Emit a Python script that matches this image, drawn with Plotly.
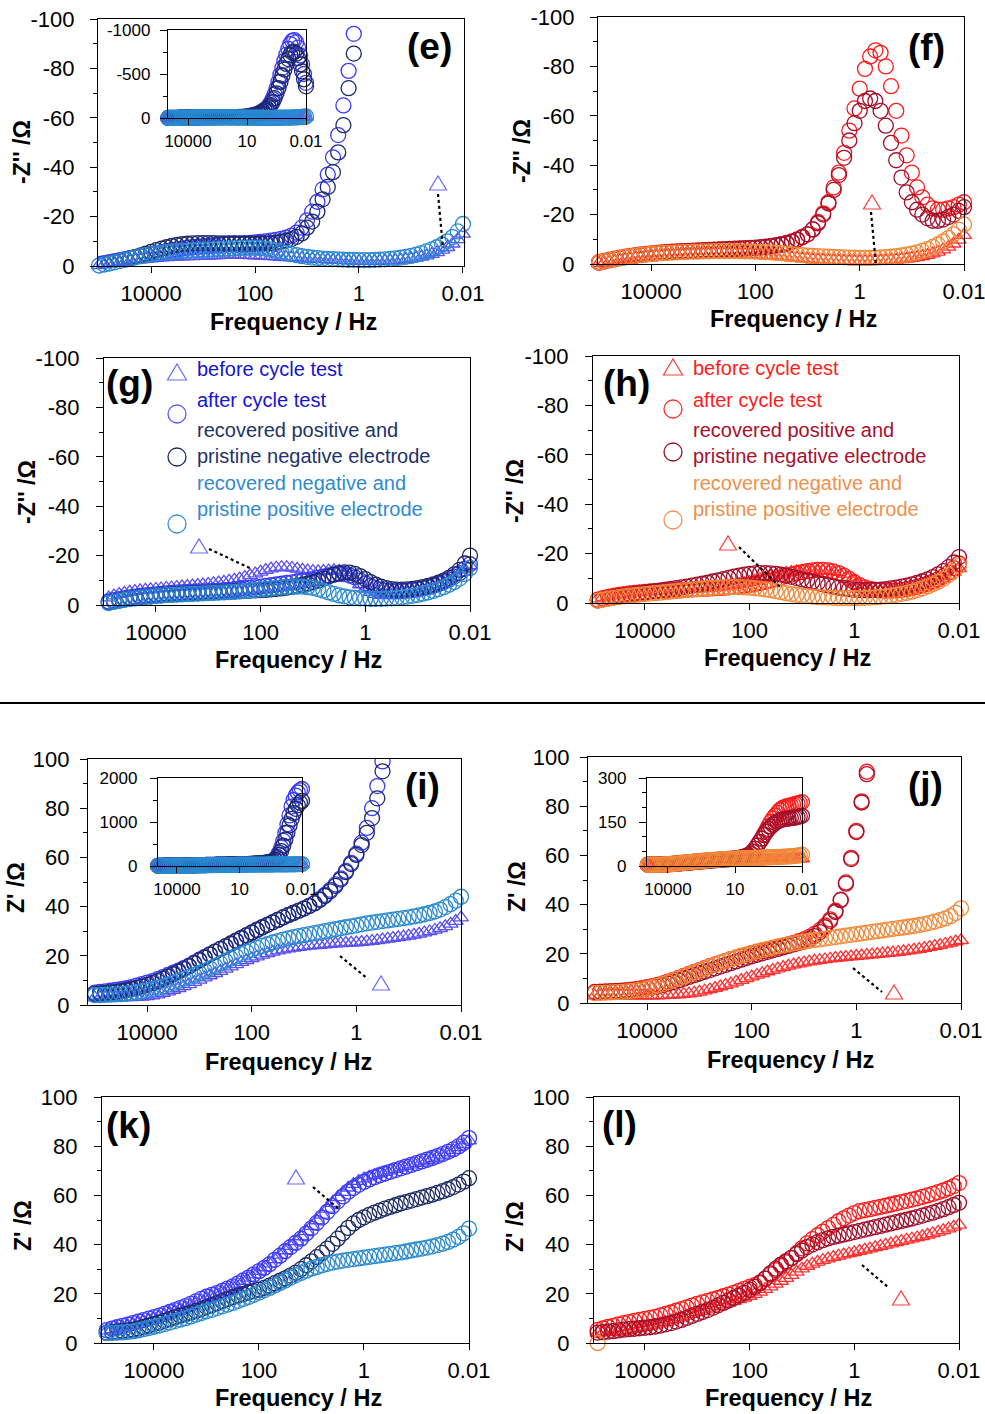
import plotly.graph_objects as go

# ---------------- data ----------------
FREQ_HZ = [100000, 79433, 63096, 50119, 39811, 31623, 25119, 19953, 15849, 12589,
           10000, 7943.3, 6309.6, 5011.9, 3981.1, 3162.3, 2511.9, 1995.3, 1584.9, 1258.9,
           1000, 794.33, 630.96, 501.19, 398.11, 316.23, 251.19, 199.53, 158.49, 125.89,
           100, 79.433, 63.096, 50.119, 39.811, 31.623, 25.119, 19.953, 15.849, 12.589,
           10, 7.9433, 6.3096, 5.0119, 3.9811, 3.1623, 2.5119, 1.9953, 1.5849, 1.2589,
           1, 0.79433, 0.63096, 0.50119, 0.39811, 0.31623, 0.25119, 0.19953, 0.15849, 0.12589,
           0.1, 0.079433, 0.063096, 0.050119, 0.039811, 0.031623, 0.025119, 0.019953, 0.015849, 0.012589,
           0.01]

X_TICKS_MAIN = [1e4, 1e2, 1, 1e-2]
X_TICKTEXT_MAIN = ["10000", "100", "1", "0.01"]
X_TICKS_INSET = [1e4, 10, 1e-2]
X_TICKTEXT_INSET = ["10000", "10", "0.01"]

IM_TICKS = [-100, -80, -60, -40, -20, 0]
IM_TICKTEXT = ["-100", "-80", "-60", "-40", "-20", "0"]
IM_MINOR = [-90, -70, -50, -30, -10]
RE_TICKS = [0, 20, 40, 60, 80, 100]
RE_TICKTEXT = ["0", "20", "40", "60", "80", "100"]
RE_MINOR = [10, 30, 50, 70, 90]

# (e) Z'' / ohm, blue set
E_BEFORE = [-0.3, -0.6, -0.9, -1.2, -1.5, -1.8, -2.1, -2.4, -2.6, -2.8,
            -3.0, -3.2, -3.4, -3.5, -3.6, -3.7, -3.8, -3.9, -3.9, -4.0,
            -4.0, -4.1, -4.2, -4.3, -4.4, -4.5, -4.5, -4.5, -4.4, -4.3,
            -4.2, -4.1, -4.0, -3.9, -3.8, -3.6, -3.5, -3.4, -3.3, -3.1,
            -3.0, -2.9, -2.8, -2.7, -2.6, -2.5, -2.4, -2.3, -2.2, -2.1,
            -2.0, -2.0, -2.0, -2.0, -2.0, -2.1, -2.2, -2.3, -2.5, -2.7,
            -3.0, -3.3, -3.7, -4.2, -4.8, -5.5, -6.5, -7.6, -9.0, -10.8,
            -13.0]
E_AFTER = [-0.8, -1.2, -1.6, -2.0, -2.4, -2.8, -3.2, -3.6, -4.0, -4.4,
           -4.8, -5.2, -5.6, -6.0, -6.4, -6.7, -7.0, -7.3, -7.6, -7.8,
           -8.0, -8.2, -8.4, -8.6, -8.8, -9.0, -9.1, -9.2, -9.3, -9.4,
           -9.6, -9.8, -10.0, -10.3, -10.6, -11.0, -11.5, -12.3, -13.5, -15.5,
           -18.5, -22.0, -26.0, -31.0, -37.0, -44.0, -53.0, -65.0, -79.0, -94.0,
           -110, -135, -170, -215, -270, -335, -410, -490, -570, -650,
           -720, -785, -840, -875, -885, -860, -800, -710, -610, -500,
           -400]
E_RECPOS = [-0.4, -0.7, -1.1, -1.5, -2.0, -2.5, -3.1, -3.7, -4.3, -5.0,
            -5.7, -6.4, -7.0, -7.6, -8.1, -8.5, -8.8, -9.0, -9.2, -9.3,
            -9.3, -9.3, -9.3, -9.2, -9.2, -9.1, -9.1, -9.0, -9.0, -9.0,
            -9.0, -9.1, -9.2, -9.3, -9.5, -9.9, -10.3, -10.9, -11.8, -13.2,
            -15.5, -18.0, -22.0, -27.0, -32.0, -38.0, -46.0, -57.0, -72.0, -86.0,
            -102, -120, -145, -180, -225, -280, -340, -410, -480, -550,
            -615, -670, -715, -745, -750, -730, -680, -610, -530, -440,
            -360]
E_RECNEG = [-0.2, -0.6, -1.0, -1.5, -2.0, -2.5, -3.0, -3.5, -4.0, -4.4,
            -4.8, -5.1, -5.4, -5.6, -5.8, -6.0, -6.1, -6.2, -6.3, -6.4,
            -6.5, -6.6, -6.7, -6.8, -6.9, -7.0, -7.1, -7.2, -7.3, -7.3,
            -7.3, -7.2, -7.0, -6.7, -6.3, -5.8, -5.3, -4.8, -4.4, -4.0,
            -3.7, -3.4, -3.2, -3.0, -2.9, -2.8, -2.7, -2.6, -2.5, -2.5,
            -2.4, -2.4, -2.4, -2.5, -2.6, -2.7, -2.9, -3.1, -3.4, -3.7,
            -4.1, -4.6, -5.2, -5.9, -6.7, -7.6, -8.7, -10.0, -11.7, -14.0,
            -17.0]

# (f) Z'' / ohm, red set
F_BEFORE = [-0.3, -0.6, -1.0, -1.3, -1.6, -1.9, -2.2, -2.4, -2.6, -2.8,
            -3.0, -3.1, -3.2, -3.3, -3.4, -3.5, -3.6, -3.7, -3.8, -3.8,
            -3.9, -3.9, -4.0, -4.0, -4.0, -4.0, -4.0, -3.9, -3.9, -3.8,
            -3.7, -3.6, -3.5, -3.4, -3.2, -3.0, -2.8, -2.6, -2.4, -2.2,
            -2.0, -1.8, -1.7, -1.6, -1.5, -1.4, -1.3, -1.2, -1.2, -1.1,
            -1.1, -1.1, -1.1, -1.2, -1.3, -1.4, -1.5, -1.7, -1.9, -2.1,
            -2.4, -2.7, -3.1, -3.6, -4.2, -4.9, -5.8, -6.9, -8.2, -9.8,
            -11.7]
F_AFTER = [-0.8, -1.3, -1.8, -2.2, -2.6, -3.0, -3.3, -3.6, -3.9, -4.1,
           -4.3, -4.5, -4.7, -4.9, -5.0, -5.1, -5.2, -5.3, -5.4, -5.5,
           -5.6, -5.7, -5.8, -5.9, -6.0, -6.1, -6.2, -6.3, -6.4, -6.5,
           -6.6, -6.8, -7.0, -7.3, -7.6, -8.0, -8.5, -9.2, -10.0, -11.0,
           -12.0, -14.0, -17.0, -20.5, -25.0, -31.0, -37.0, -45.0, -54.0, -63.0,
           -71.0, -79.0, -84.0, -86.5, -85.5, -80.0, -72.0, -62.0, -52.0, -44.0,
           -37.0, -31.0, -27.0, -24.0, -22.5, -22.0, -22.0, -22.5, -23.0, -24.0,
           -25.0]
F_RECPOS = [-0.5, -1.0, -1.5, -1.9, -2.3, -2.7, -3.0, -3.3, -3.6, -3.9,
            -4.1, -4.3, -4.5, -4.7, -4.9, -5.0, -5.1, -5.2, -5.3, -5.4,
            -5.5, -5.6, -5.7, -5.8, -5.9, -6.0, -6.1, -6.2, -6.3, -6.4,
            -6.5, -6.7, -6.9, -7.2, -7.5, -7.9, -8.4, -9.0, -9.8, -10.8,
            -12.0, -14.0, -16.5, -20.0, -24.5, -30.0, -36.0, -43.0, -50.0, -57.0,
            -62.0, -66.0, -67.0, -66.0, -62.0, -56.0, -49.0, -42.0, -35.0, -29.0,
            -25.0, -22.0, -20.0, -18.5, -17.5, -17.5, -18.0, -19.0, -20.0, -21.5,
            -23.0]
F_RECNEG = [-0.6, -1.1, -1.6, -2.0, -2.4, -2.8, -3.1, -3.4, -3.7, -3.9,
            -4.1, -4.3, -4.4, -4.5, -4.6, -4.7, -4.8, -4.9, -5.0, -5.0,
            -5.1, -5.1, -5.2, -5.2, -5.2, -5.2, -5.2, -5.2, -5.1, -5.1,
            -5.0, -4.9, -4.8, -4.7, -4.6, -4.4, -4.2, -4.0, -3.8, -3.6,
            -3.4, -3.3, -3.2, -3.1, -3.0, -2.9, -2.8, -2.7, -2.6, -2.6,
            -2.5, -2.5, -2.5, -2.6, -2.7, -2.8, -3.0, -3.2, -3.5, -3.8,
            -4.2, -4.7, -5.3, -6.0, -6.9, -7.9, -9.1, -10.5, -12.0, -13.9,
            -16.0]

# (g) Z'' / ohm, blue set
G_BEFORE = [-2.0, -3.0, -3.8, -4.4, -4.9, -5.3, -5.6, -5.9, -6.1, -6.3,
            -6.5, -6.7, -6.9, -7.1, -7.3, -7.5, -7.7, -7.9, -8.1, -8.3,
            -8.5, -8.8, -9.1, -9.4, -9.8, -10.2, -10.7, -11.3, -12.0, -12.7,
            -13.4, -14.1, -14.7, -15.1, -15.3, -15.3, -15.0, -14.6, -14.2, -13.9,
            -13.7, -13.6, -13.7, -13.9, -14.0, -13.8, -13.2, -12.0, -10.3, -8.3,
            -6.5, -5.2, -4.4, -4.0, -3.9, -4.0, -4.2, -4.5, -4.8, -5.2,
            -5.6, -6.1, -6.7, -7.4, -8.2, -9.1, -10.2, -11.4, -12.8, -14.3,
            -16.0]
G_AFTER = [-1.0, -1.5, -2.0, -2.4, -2.8, -3.1, -3.4, -3.7, -3.9, -4.1,
           -4.3, -4.5, -4.7, -4.9, -5.0, -5.1, -5.2, -5.3, -5.4, -5.5,
           -5.6, -5.7, -5.8, -6.0, -6.1, -6.3, -6.5, -6.7, -6.9, -7.1,
           -7.4, -7.7, -8.0, -8.3, -8.6, -8.9, -9.2, -9.5, -9.8, -10.1,
           -10.5, -11.0, -11.5, -12.0, -12.4, -12.6, -12.5, -12.0, -11.2, -10.0,
           -8.8, -7.7, -6.8, -6.2, -5.8, -5.6, -5.5, -5.6, -5.8, -6.0,
           -6.3, -6.7, -7.2, -7.8, -8.5, -9.3, -10.3, -11.5, -12.9, -14.6,
           -16.5]
G_RECPOS = [-0.5, -1.0, -1.4, -1.8, -2.2, -2.5, -2.8, -3.1, -3.3, -3.5,
            -3.7, -3.9, -4.1, -4.3, -4.4, -4.5, -4.6, -4.7, -4.8, -4.9,
            -5.0, -5.1, -5.2, -5.3, -5.4, -5.5, -5.6, -5.7, -5.8, -5.9,
            -6.0, -6.1, -6.3, -6.5, -6.7, -7.0, -7.3, -7.7, -8.1, -8.6,
            -9.2, -9.9, -10.7, -11.5, -12.3, -12.9, -13.2, -13.1, -12.6, -11.7,
            -10.5, -9.3, -8.2, -7.4, -6.8, -6.4, -6.2, -6.2, -6.3, -6.5,
            -6.8, -7.2, -7.7, -8.3, -9.0, -9.9, -11.0, -12.4, -14.2, -16.8,
            -20.0]
G_RECNEG = [-0.3, -0.8, -1.3, -1.7, -2.1, -2.4, -2.7, -3.0, -3.2, -3.4,
            -3.6, -3.8, -4.0, -4.1, -4.2, -4.3, -4.4, -4.5, -4.6, -4.7,
            -4.8, -4.9, -5.0, -5.1, -5.2, -5.3, -5.5, -5.7, -5.9, -6.1,
            -6.3, -6.5, -6.7, -6.9, -7.1, -7.3, -7.4, -7.5, -7.4, -7.2,
            -6.9, -6.4, -5.8, -5.1, -4.5, -3.9, -3.5, -3.1, -2.9, -2.7,
            -2.6, -2.5, -2.5, -2.5, -2.6, -2.7, -2.9, -3.1, -3.4, -3.7,
            -4.1, -4.6, -5.1, -5.7, -6.4, -7.2, -8.2, -9.3, -10.7, -12.6,
            -15.0]

# (h) Z'' / ohm, red set
H_BEFORE = [-1.0, -1.8, -2.4, -2.9, -3.3, -3.6, -3.9, -4.1, -4.3, -4.5,
            -4.7, -4.9, -5.0, -5.1, -5.2, -5.3, -5.4, -5.5, -5.6, -5.7,
            -5.8, -5.9, -6.0, -6.2, -6.4, -6.6, -6.9, -7.2, -7.6, -8.0,
            -8.5, -9.0, -9.6, -10.2, -10.8, -11.3, -11.8, -12.2, -12.5, -12.8,
            -13.0, -13.1, -13.2, -13.2, -13.1, -13.0, -12.8, -12.5, -11.8, -10.5,
            -8.8, -7.2, -6.0, -5.2, -4.7, -4.4, -4.3, -4.3, -4.4, -4.6,
            -4.9, -5.3, -5.8, -6.4, -7.1, -7.9, -8.8, -9.9, -11.1, -12.5,
            -14.0]
H_AFTER = [-0.8, -1.4, -2.0, -2.5, -2.9, -3.3, -3.6, -3.9, -4.1, -4.3,
           -4.5, -4.7, -4.8, -4.9, -5.0, -5.1, -5.2, -5.3, -5.4, -5.5,
           -5.6, -5.7, -5.8, -5.9, -6.0, -6.1, -6.3, -6.5, -6.7, -7.0,
           -7.3, -7.7, -8.1, -8.6, -9.1, -9.7, -10.3, -10.9, -11.5, -12.0,
           -12.5, -12.9, -13.2, -13.4, -13.4, -13.2, -12.8, -12.1, -11.1, -9.8,
           -8.4, -7.2, -6.3, -5.7, -5.3, -5.1, -5.0, -5.0, -5.1, -5.3,
           -5.6, -6.0, -6.5, -7.1, -7.8, -8.6, -9.6, -10.8, -12.3, -14.1,
           -16.0]
H_RECPOS = [-0.5, -1.0, -1.5, -1.9, -2.3, -2.7, -3.0, -3.3, -3.6, -3.9,
            -4.2, -4.5, -4.8, -5.1, -5.4, -5.7, -6.0, -6.3, -6.6, -7.0,
            -7.4, -7.8, -8.2, -8.7, -9.2, -9.7, -10.2, -10.7, -11.1, -11.5,
            -11.8, -12.0, -12.1, -12.1, -12.0, -11.8, -11.5, -11.1, -10.6, -10.1,
            -9.6, -9.1, -8.6, -8.1, -7.6, -7.1, -6.6, -6.2, -5.9, -5.6,
            -5.4, -5.3, -5.2, -5.2, -5.3, -5.4, -5.6, -5.9, -6.2, -6.6,
            -7.0, -7.5, -8.1, -8.8, -9.6, -10.5, -11.6, -12.9, -14.5, -16.4,
            -18.6]
H_RECNEG = [-0.5, -1.0, -1.4, -1.8, -2.1, -2.4, -2.7, -3.0, -3.2, -3.4,
            -3.6, -3.8, -4.0, -4.2, -4.4, -4.6, -4.8, -5.0, -5.2, -5.4,
            -5.6, -5.8, -6.0, -6.1, -6.2, -6.3, -6.4, -6.4, -6.4, -6.3,
            -6.2, -6.0, -5.8, -5.5, -5.2, -4.8, -4.4, -4.0, -3.6, -3.3,
            -3.0, -2.8, -2.6, -2.4, -2.3, -2.2, -2.1, -2.0, -2.0, -2.0,
            -2.0, -2.0, -2.1, -2.2, -2.3, -2.5, -2.7, -3.0, -3.3, -3.7,
            -4.1, -4.6, -5.2, -5.9, -6.7, -7.6, -8.6, -9.8, -11.3, -13.0,
            -15.0]

# (i) Z' / ohm, blue set
I_BEFORE = [3.0, 3.0, 3.0, 3.0, 3.0, 3.0, 3.1, 3.1, 3.2, 3.3,
            3.5, 3.8, 4.2, 4.8, 5.4, 6.1, 6.8, 7.6, 8.4, 9.3,
            10.2, 11.1, 12.0, 12.9, 13.8, 14.7, 15.6, 16.5, 17.4, 18.2,
            19.0, 19.7, 20.4, 21.0, 21.6, 22.1, 22.5, 22.9, 23.2, 23.5,
            23.8, 24.0, 24.2, 24.4, 24.6, 24.8, 25.0, 25.1, 25.2, 25.3,
            25.4, 25.6, 25.8, 26.0, 26.3, 26.6, 26.9, 27.2, 27.5, 27.8,
            28.1, 28.5, 28.9, 29.4, 29.9, 30.5, 31.2, 32.0, 33.0, 34.1,
            35.5]
I_AFTER = [5.0, 5.3, 5.5, 5.8, 6.1, 6.4, 6.8, 7.3, 7.9, 8.5,
           9.1, 9.7, 10.5, 11.3, 12.2, 13.1, 14.0, 15.0, 16.0, 17.2,
           18.4, 19.5, 20.6, 21.7, 22.7, 23.7, 24.8, 26.0, 27.0, 28.2,
           29.3, 30.4, 31.5, 32.6, 33.6, 34.6, 35.6, 36.6, 37.5, 38.4,
           39.3, 40.3, 41.5, 43.0, 44.8, 46.8, 49.0, 51.5, 54.5, 57.8,
           61.5, 66.0, 72.0, 80.0, 89.0, 99.0, 118, 150, 210, 300,
           420, 570, 750, 950, 1150, 1350, 1500, 1600, 1670, 1720,
           1750]
I_RECPOS = [4.5, 4.7, 4.9, 5.1, 5.3, 5.6, 6.0, 6.5, 7.0, 7.6,
            8.2, 8.9, 9.7, 10.6, 11.5, 12.5, 13.5, 14.6, 15.7, 16.9,
            18.1, 19.3, 20.5, 21.7, 22.8, 23.9, 25.0, 26.2, 27.3, 28.4,
            29.5, 30.6, 31.6, 32.6, 33.6, 34.6, 35.6, 36.5, 37.4, 38.3,
            39.2, 40.2, 41.3, 42.7, 44.3, 46.2, 48.4, 51.0, 54.0, 57.3,
            61.0, 65.0, 70.0, 76.0, 84.0, 95.0, 110, 135, 180, 250,
            340, 460, 600, 760, 920, 1070, 1200, 1300, 1380, 1440,
            1480]
I_RECNEG = [4.0, 4.0, 4.1, 4.2, 4.3, 4.4, 4.6, 4.8, 5.1, 5.5,
            6.0, 6.5, 7.0, 7.6, 8.3, 9.0, 9.8, 10.6, 11.4, 12.2,
            13.0, 13.9, 14.9, 15.9, 16.9, 17.9, 18.9, 19.8, 20.7, 21.6,
            22.4, 23.2, 24.0, 24.7, 25.4, 26.0, 26.6, 27.1, 27.6, 28.0,
            28.4, 28.8, 29.2, 29.6, 30.0, 30.4, 30.8, 31.2, 31.6, 32.0,
            32.4, 32.8, 33.2, 33.5, 33.8, 34.1, 34.4, 34.7, 35.0, 35.3,
            35.6, 36.0, 36.4, 36.9, 37.4, 38.0, 38.8, 39.8, 41.0, 42.4,
            44.0]

# (j) Z' / ohm, red set
J_BEFORE = [3.0, 3.0, 3.0, 3.0, 3.0, 3.0, 3.0, 3.0, 3.0, 3.0,
            3.0, 3.0, 3.0, 3.1, 3.2, 3.3, 3.4, 3.6, 3.8, 4.1,
            4.5, 5.0, 5.5, 6.1, 6.7, 7.3, 7.9, 8.6, 9.3, 10.0,
            10.7, 11.4, 12.1, 12.8, 13.4, 14.0, 14.6, 15.1, 15.6, 16.0,
            16.4, 16.8, 17.1, 17.4, 17.7, 18.0, 18.3, 18.5, 18.7, 18.9,
            19.1, 19.3, 19.5, 19.7, 19.9, 20.1, 20.3, 20.5, 20.7, 21.0,
            21.3, 21.6, 21.9, 22.3, 22.7, 23.1, 23.5, 24.0, 24.5, 25.0,
            25.5]
J_AFTER = [4.5, 4.6, 4.7, 4.8, 4.9, 5.0, 5.2, 5.4, 5.7, 6.0,
           6.4, 6.9, 7.4, 8.0, 8.7, 9.4, 10.2, 11.0, 11.8, 12.6,
           13.4, 14.2, 15.0, 15.7, 16.4, 17.1, 17.8, 18.4, 19.0, 19.6,
           20.2, 20.7, 21.2, 21.7, 22.2, 22.7, 23.2, 23.8, 24.4, 25.1,
           25.9, 26.9, 28.1, 29.6, 31.5, 34.0, 37.5, 42.0, 49.0, 59.0,
           70.0, 82.0, 94.0, 108, 122, 136, 150, 162, 172, 181,
           190, 196, 200, 203, 205, 207, 209, 211, 213, 215,
           218]
J_RECPOS = [4.3, 4.4, 4.5, 4.6, 4.7, 4.8, 4.9, 5.1, 5.3, 5.6,
            5.9, 6.3, 6.8, 7.3, 7.9, 8.5, 9.2, 9.9, 10.6, 11.3,
            12.0, 12.7, 13.4, 14.1, 14.8, 15.5, 16.2, 16.9, 17.6, 18.3,
            19.0, 19.6, 20.2, 20.8, 21.4, 22.0, 22.6, 23.2, 23.8, 24.4,
            25.0, 26.0, 27.2, 28.8, 30.8, 33.4, 37.0, 41.8, 48.5, 58.5,
            69.5, 81.5, 93.0, 105, 116, 126, 134, 141, 147, 152,
            155, 158, 160, 161, 162, 163, 164, 165, 167, 169,
            171]
J_RECNEG = [4.0, 4.1, 4.2, 4.3, 4.4, 4.5, 4.7, 4.9, 5.2, 5.5,
            5.9, 6.4, 7.0, 7.7, 8.4, 9.2, 10.0, 10.8, 11.6, 12.4,
            13.2, 14.0, 14.8, 15.6, 16.4, 17.1, 17.8, 18.5, 19.2, 19.8,
            20.4, 21.0, 21.5, 22.0, 22.5, 23.0, 23.4, 23.8, 24.2, 24.6,
            25.0, 25.3, 25.6, 25.9, 26.2, 26.5, 26.8, 27.1, 27.4, 27.7,
            28.0, 28.3, 28.6, 28.9, 29.2, 29.5, 29.8, 30.1, 30.4, 30.7,
            31.0, 31.3, 31.7, 32.1, 32.6, 33.1, 33.7, 34.4, 35.3, 36.6,
            38.5]

# (k) Z' / ohm, blue set
K_BEFORE = [4.5, 5.0, 5.5, 6.1, 6.7, 7.2, 7.8, 8.4, 9.0, 9.6,
            10.2, 10.8, 11.5, 12.2, 13.0, 13.8, 14.6, 15.5, 16.4, 17.4,
            18.3, 19.2, 20.0, 20.9, 21.9, 22.9, 24.0, 25.2, 26.5, 27.8,
            29.2, 30.7, 32.3, 34.0, 35.8, 37.6, 39.4, 41.3, 43.3, 45.4,
            47.5, 49.8, 52.1, 54.5, 56.9, 59.2, 61.3, 63.1, 64.6, 65.8,
            66.8, 67.6, 68.3, 68.9, 69.5, 70.1, 70.7, 71.3, 71.9, 72.5,
            73.1, 73.7, 74.3, 75.0, 75.7, 76.5, 77.4, 78.4, 79.5, 80.8,
            82.3]
K_AFTER = [4.7, 5.2, 5.8, 6.4, 7.0, 7.5, 8.1, 8.7, 9.3, 9.9,
           10.5, 11.1, 11.8, 12.6, 13.4, 14.2, 15.0, 15.9, 16.9, 17.9,
           18.8, 19.6, 20.3, 21.2, 22.1, 23.0, 24.2, 25.4, 26.6, 27.9,
           29.2, 30.5, 32.0, 33.8, 35.5, 37.3, 39.0, 40.7, 42.4, 44.5,
           46.6, 48.8, 51.0, 53.3, 55.6, 57.6, 59.6, 61.5, 63.0, 64.3,
           65.5, 66.5, 67.4, 68.2, 68.9, 69.6, 70.3, 71.0, 71.7, 72.4,
           73.1, 73.8, 74.5, 75.2, 76.0, 76.8, 77.7, 78.7, 79.9, 81.4,
           83.3]
K_RECPOS = [4.0, 4.2, 4.4, 4.6, 4.9, 5.1, 5.4, 5.9, 6.5, 7.1,
            7.7, 8.3, 9.0, 9.7, 10.4, 11.1, 11.7, 12.3, 13.0, 13.8,
            14.6, 15.4, 16.2, 17.0, 17.8, 18.6, 19.3, 19.9, 20.5, 21.1,
            21.7, 22.4, 23.3, 24.3, 25.3, 26.3, 27.4, 28.6, 30.0, 31.6,
            33.2, 34.9, 36.6, 38.4, 40.3, 42.4, 44.6, 46.8, 48.6, 50.0,
            51.1, 52.1, 53.0, 53.8, 54.6, 55.3, 56.0, 56.7, 57.3, 57.9,
            58.5, 59.1, 59.7, 60.3, 61.0, 61.7, 62.5, 63.4, 64.4, 65.6,
            67.0]
K_RECNEG = [4.0, 4.0, 4.1, 4.2, 4.3, 4.5, 4.7, 5.1, 5.6, 6.1,
            6.6, 7.1, 7.7, 8.3, 8.9, 9.5, 10.1, 10.8, 11.5, 12.2,
            12.9, 13.5, 14.2, 14.9, 15.6, 16.3, 17.1, 17.9, 18.7, 19.6,
            20.5, 21.4, 22.4, 23.4, 24.4, 25.4, 26.5, 27.5, 28.5, 29.4,
            30.2, 30.9, 31.6, 32.2, 32.7, 33.1, 33.5, 33.8, 34.1, 34.4,
            34.7, 35.0, 35.3, 35.6, 35.9, 36.2, 36.5, 36.8, 37.2, 37.6,
            38.0, 38.4, 38.8, 39.3, 39.8, 40.4, 41.1, 42.0, 43.1, 44.6,
            46.5]

# (l) Z' / ohm, red set
L_BEFORE = [4.0, 4.1, 4.2, 4.3, 4.4, 4.5, 4.7, 5.1, 5.5, 6.0,
            6.5, 7.0, 7.4, 7.9, 8.5, 9.1, 9.7, 10.3, 11.0, 11.7,
            12.4, 13.0, 13.6, 14.3, 15.0, 15.6, 16.3, 17.0, 17.7, 18.4,
            19.1, 19.9, 20.8, 21.9, 22.9, 24.0, 25.2, 26.4, 27.6, 28.9,
            30.2, 31.3, 32.2, 33.0, 33.7, 34.3, 34.9, 35.4, 35.9, 36.4,
            36.9, 37.4, 37.9, 38.4, 38.9, 39.4, 39.9, 40.4, 40.9, 41.4,
            41.9, 42.4, 42.9, 43.4, 44.0, 44.6, 45.2, 45.8, 46.5, 47.2,
            48.0]
L_AFTER = [4.7, 5.3, 5.9, 6.5, 7.0, 7.6, 8.1, 8.5, 9.0, 9.4,
           9.8, 10.2, 10.6, 11.2, 11.8, 12.4, 13.1, 13.8, 14.5, 15.2,
           15.9, 16.5, 17.1, 17.7, 18.3, 19.0, 19.7, 20.4, 21.2, 22.0,
           22.8, 23.5, 24.6, 26.2, 27.9, 29.6, 31.3, 32.8, 34.5, 36.5,
           38.5, 40.5, 42.2, 43.8, 45.3, 46.7, 48.0, 49.5, 50.7, 51.8,
           52.8, 53.6, 54.0, 54.4, 54.9, 55.3, 55.8, 56.3, 56.8, 57.3,
           57.8, 58.3, 58.8, 59.4, 60.0, 60.6, 61.3, 62.0, 62.8, 63.8,
           65.0]
L_RECPOS = [4.0, 4.2, 4.4, 4.6, 4.8, 5.1, 5.4, 5.6, 5.8, 6.0,
            6.2, 6.4, 6.7, 7.1, 7.6, 8.1, 8.7, 9.4, 10.2, 11.0,
            11.8, 12.6, 13.4, 14.3, 15.3, 16.3, 17.3, 18.3, 19.3, 20.4,
            21.6, 22.8, 24.3, 26.2, 28.3, 30.2, 31.9, 33.3, 34.6, 36.1,
            37.6, 39.0, 40.0, 41.0, 41.8, 42.5, 43.1, 43.6, 44.1, 44.6,
            45.1, 45.6, 46.1, 46.6, 47.1, 47.6, 48.1, 48.6, 49.1, 49.6,
            50.1, 50.6, 51.2, 51.8, 52.4, 53.0, 53.7, 54.4, 55.2, 56.1,
            57.0]
L_RECNEG = [0.0, 0.0]

# ---------------- styling ----------------
W, H = 985, 1414
FONT = "Liberation Sans, Arial, Helvetica, sans-serif"
BLUE_BEFORE = "#5a50f0"
BLUE_AFTER = "#3a3aff"
NAVY = "#1c2a66"
LIGHT_BLUE = "#2a8ad0"
RED_BEFORE = "#ff3030"
RED_AFTER = "#ff1a1a"
DARK_RED = "#a0102c"
ORANGE = "#f08a3a"


def dom_x(x0, x1):
    return [x0 / W, x1 / W]


def dom_y(y0, y1):
    return [1 - y1 / H, 1 - y0 / H]


def P(x, y):
    return x / W, 1 - y / H


def ids(n):
    if n == 1:
        return "x", "y", "xaxis", "yaxis"
    return f"x{n}", f"y{n}", f"xaxis{n}", f"yaxis{n}"


fig = go.Figure()
layout_axes = {}


def add_axes(n, box, xr, yr, yt, ytt, ymin, xt, xtt, fs, ystand, xstand):
    xid, yid, xkey, ykey = ids(n)
    x0, y0, x1, y1 = box
    common = dict(showline=True, linecolor="black", linewidth=1.3, mirror=True,
                  showgrid=False, zeroline=False, ticks="outside", tickcolor="black",
                  tickwidth=1.3, automargin=False, ticklabeloverflow="allow",
                  tickfont=dict(family=FONT, size=fs, color="black"))
    layout_axes[xkey] = dict(domain=dom_x(x0, x1), anchor=yid, type="log", range=xr,
                             tickmode="array", tickvals=xt, ticktext=xtt,
                             ticklen=6, ticklabelstandoff=xstand, **common)
    layout_axes[ykey] = dict(domain=dom_y(y0, y1), anchor=xid, range=yr,
                             tickmode="array", tickvals=yt, ticktext=ytt,
                             ticklen=7,
                             minor=dict(tickvals=ymin, ticks="outside", ticklen=4,
                                        tickcolor="black", tickwidth=1.2),
                             ticklabelstandoff=ystand, **common)


def add_series(n, y, symbol, color, clip=False):
    xid, yid, _, _ = ids(n)
    size = 15 if symbol.startswith("circle") else 13
    fig.add_trace(go.Scatter(
        x=FREQ_HZ[:len(y)], y=y, mode="markers", xaxis=xid, yaxis=yid,
        cliponaxis=clip, showlegend=False, hoverinfo="skip",
        marker=dict(symbol=symbol, size=size, color=color,
                    line=dict(width=1.3, color=color))))


# main panels: number, box(px), x range, kind, y label standoff
PANELS = [
    (1, (98, 19, 464, 266), [5.02, -2.02], "im", 11),
    (2, (598, 17, 964, 264), [5.02, -2.0], "im", 11),
    (3, (104, 358, 470, 605), [4.99, -2.0], "im", 12),
    (4, (593, 356, 959, 603), [4.99, -2.0], "im", 12),
    (5, (88, 759, 461, 1005), [5.13, -2.0], "re", 6),
    (6, (588, 757, 961, 1003), [5.13, -2.0], "re", 6),
    (7, (102, 1097, 469, 1343), [4.99, -2.0], "re", 12),
    (8, (594, 1097, 959, 1343), [4.97, -2.0], "re", 12),
]
for n, box, xr, kind, ys in PANELS:
    if kind == "im":
        add_axes(n, box, xr, [0, -100], IM_TICKS, IM_TICKTEXT, IM_MINOR,
                 X_TICKS_MAIN, X_TICKTEXT_MAIN, 22, ys, 1)
    else:
        add_axes(n, box, xr, [0, 100], RE_TICKS, RE_TICKTEXT, RE_MINOR,
                 X_TICKS_MAIN, X_TICKTEXT_MAIN, 22, ys, 1)

# insets
add_axes(9, (168, 30, 306, 118), [5.02, -2.0], [0, -1000], [-1000, -500, 0],
         ["-1000", "-500", "0"], [-750, -250], X_TICKS_INSET, X_TICKTEXT_INSET, 17, 6, 1)
add_axes(10, (158, 778, 302, 866), [4.91, -2.0], [0, 2000], [0, 1000, 2000],
         ["0", "1000", "2000"], [500, 1500], X_TICKS_INSET, X_TICKTEXT_INSET, 17, 9, 1)
add_axes(11, (647, 778, 802, 866), [4.94, -2.0], [0, 300], [0, 150, 300],
         ["0", "150", "300"], [50, 100, 200, 250], X_TICKS_INSET, X_TICKTEXT_INSET, 17, 9, 1)

TRI = "triangle-up-open"
CIR = "circle-open"
# (e)
add_series(1, E_BEFORE, TRI, BLUE_BEFORE)
add_series(1, E_AFTER, CIR, BLUE_AFTER, clip=True)
add_series(1, E_RECPOS, CIR, NAVY, clip=True)
add_series(1, E_RECNEG, CIR, LIGHT_BLUE)
# (f)
add_series(2, F_BEFORE, TRI, RED_BEFORE)
add_series(2, F_AFTER, CIR, RED_AFTER)
add_series(2, F_RECPOS, CIR, DARK_RED)
add_series(2, F_RECNEG, CIR, ORANGE)
# (g)
add_series(3, G_BEFORE, TRI, BLUE_BEFORE)
add_series(3, G_AFTER, CIR, BLUE_AFTER)
add_series(3, G_RECPOS, CIR, NAVY)
add_series(3, G_RECNEG, CIR, LIGHT_BLUE)
# (h)
add_series(4, H_BEFORE, TRI, RED_BEFORE)
add_series(4, H_AFTER, CIR, RED_AFTER)
add_series(4, H_RECPOS, CIR, DARK_RED)
add_series(4, H_RECNEG, CIR, ORANGE)
# (i)
add_series(5, I_BEFORE, TRI, BLUE_BEFORE)
add_series(5, I_AFTER, CIR, BLUE_AFTER, clip=True)
add_series(5, I_RECPOS, CIR, NAVY, clip=True)
add_series(5, I_RECNEG, CIR, LIGHT_BLUE)
# (j)
add_series(6, J_BEFORE, TRI, RED_BEFORE)
add_series(6, J_AFTER, CIR, RED_AFTER, clip=True)
add_series(6, J_RECPOS, CIR, DARK_RED, clip=True)
add_series(6, J_RECNEG, CIR, ORANGE)
# (k)
add_series(7, K_BEFORE, TRI, BLUE_BEFORE)
add_series(7, K_AFTER, CIR, BLUE_AFTER)
add_series(7, K_RECPOS, CIR, NAVY)
add_series(7, K_RECNEG, CIR, LIGHT_BLUE)
# (l)
add_series(8, L_BEFORE, TRI, RED_BEFORE)
add_series(8, L_AFTER, CIR, RED_AFTER)
add_series(8, L_RECPOS, CIR, DARK_RED)
add_series(8, L_RECNEG, CIR, ORANGE)
# insets
add_series(9, E_BEFORE, TRI, BLUE_BEFORE)
add_series(9, E_AFTER, CIR, BLUE_AFTER)
add_series(9, E_RECPOS, CIR, NAVY)
add_series(9, E_RECNEG, CIR, LIGHT_BLUE)
add_series(10, I_BEFORE, TRI, BLUE_BEFORE)
add_series(10, I_AFTER, CIR, BLUE_AFTER)
add_series(10, I_RECPOS, CIR, NAVY)
add_series(10, I_RECNEG, CIR, LIGHT_BLUE)
add_series(11, J_BEFORE, TRI, RED_BEFORE)
add_series(11, J_AFTER, CIR, RED_AFTER)
add_series(11, J_RECPOS, CIR, DARK_RED)
add_series(11, J_RECNEG, CIR, ORANGE)

# ---------------- annotations ----------------
annotations = []


def text(x, y, s, size, color="black", bold=False, angle=0, xanchor="center"):
    px_, py_ = P(x, y)
    annotations.append(dict(x=px_, y=py_, xref="paper", yref="paper", text=(f"<b>{s}</b>" if bold else s),
                            showarrow=False, textangle=angle, xanchor=xanchor, yanchor="middle",
                            align="left", font=dict(family=FONT, size=size, color=color)))


# panel labels
for lab, x, y in [("(e)", 429, 46), ("(f)", 926, 48), ("(g)", 129, 383), ("(h)", 626, 383),
                  ("(i)", 422, 786), ("(j)", 925, 785), ("(k)", 128, 1125), ("(l)", 619, 1124)]:
    text(x, y, lab, 37, bold=True)

# x-axis titles
for x, y in [(293, 322), (793, 319), (298, 660), (787, 658), (288, 1062), (790, 1060), (298, 1398), (788, 1398)]:
    text(x, y, "Frequency / Hz", 23.5, bold=True)

# y-axis titles
for x, y in [(22, 152), (522, 151), (27, 492), (515, 491)]:
    text(x, y, "-Z'' /Ω", 23, bold=True, angle=-90)
for x, y in [(16, 888), (517, 887), (23, 1226), (515, 1227)]:
    text(x, y, "Z' /Ω", 23, bold=True, angle=-90)

# legend texts (g) and (h)
LEG_BLUE = "#1515d0"
LEG_NAVY = "#1f3366"
LEG_LBLUE = "#2f8ad0"
LEG_RED = "#ff1a1a"
LEG_DRED = "#a8102c"
LEG_ORANGE = "#f0904a"
for xl, rows in [
    (195, [(369, "before cycle test", LEG_BLUE), (400, "after cycle test", LEG_BLUE),
           (443, "recovered positive and<br>pristine negative electrode", LEG_NAVY),
           (496, "recovered negative and<br>pristine positive electrode", LEG_LBLUE)]),
    (691, [(368, "before cycle test", LEG_RED), (400, "after cycle test", LEG_RED),
           (443, "recovered positive and<br>pristine negative electrode", LEG_DRED),
           (496, "recovered negative and<br>pristine positive electrode", LEG_ORANGE)]),
]:
    for y, s, c in rows:
        text(xl, y, s, 20, color=c, xanchor="left")

# ---------------- shapes ----------------
shapes = []


def tri(cx, cy, color, w=17, h=14, lw=1.2):
    ax, ay = P(cx - w / 2, cy + h / 2)
    bx, by = P(cx + w / 2, cy + h / 2)
    tx, ty = P(cx, cy - h / 2)
    shapes.append(dict(type="path", xref="paper", yref="paper",
                       path=f"M {ax},{ay} L {bx},{by} L {tx},{ty} Z",
                       line=dict(color=color, width=lw)))


def circ(cx, cy, color, d=18, lw=1.3):
    x0, y0 = P(cx - d / 2, cy + d / 2)
    x1, y1 = P(cx + d / 2, cy - d / 2)
    shapes.append(dict(type="circle", xref="paper", yref="paper", x0=x0, y0=y0, x1=x1, y1=y1,
                       line=dict(color=color, width=lw)))


def dotted(xa, ya, xb, yb):
    x0, y0 = P(xa, ya)
    x1, y1 = P(xb, yb)
    shapes.append(dict(type="line", xref="paper", yref="paper", x0=x0, y0=y0, x1=x1, y1=y1,
                       line=dict(color="black", width=2.2, dash="dot")))


# legend symbols
tri(177, 372, "#6a6aff", w=19, h=16)
circ(177, 414, "#5a5aff")
circ(177, 457, NAVY)
circ(177, 524, "#3a90d8")
tri(673, 367, "#ff4040", w=19, h=16)
circ(673, 409, "#ff3030")
circ(673, 452, DARK_RED)
circ(673, 520, "#f39050")

# callouts
TRI_BLUE = "#6a6aff"
TRI_RED = "#ff4040"
for (cx, cy, col, la, lb) in [
    (438, 183, TRI_BLUE, (438, 194), (443, 248)),
    (872, 202, TRI_RED, (871, 212), (876, 265)),
    (199, 546, TRI_BLUE, (209, 549), (252, 569)),
    (728, 543, TRI_RED, (739, 547), (780, 587)),
    (381, 983, TRI_BLUE, (340, 956), (368, 979)),
    (894, 992, TRI_RED, (853, 968), (882, 992)),
    (296, 1177, TRI_BLUE, (313, 1187), (340, 1210)),
    (901, 1298, TRI_RED, (862, 1265), (889, 1288)),
]:
    tri(cx, cy, col)
    dotted(la[0], la[1], lb[0], lb[1])

# separator line
sx0, sy0 = P(0, 703)
sx1, sy1 = P(985, 703)
shapes.append(dict(type="line", xref="paper", yref="paper", x0=sx0, y0=sy0, x1=sx1, y1=sy1,
                   line=dict(color="black", width=2)))

fig.update_layout(
    width=W, height=H, margin=dict(l=0, r=0, t=0, b=0, pad=0, autoexpand=False),
    paper_bgcolor="white", plot_bgcolor="white", showlegend=False,
    font=dict(family=FONT, color="black"),
    annotations=annotations, shapes=shapes,
    **layout_axes,
)

fig.write_html("out.html")
